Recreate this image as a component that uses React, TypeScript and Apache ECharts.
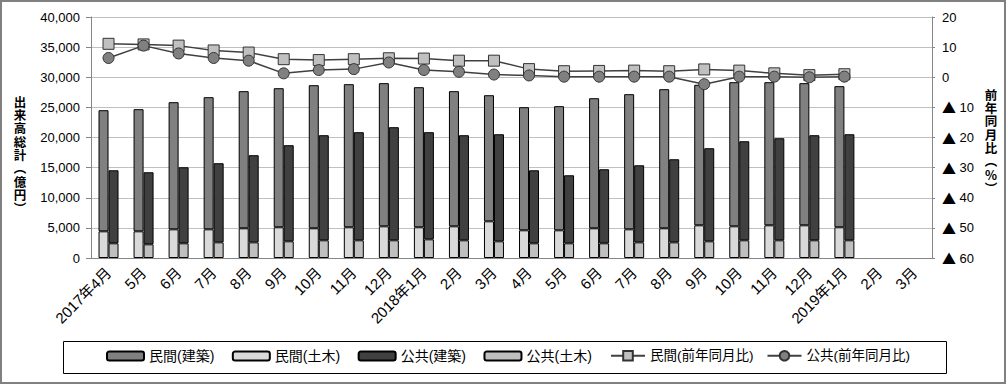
import React, { useEffect, useRef } from "react";
import * as echarts from "echarts";

const categories = [
  "2017年4月", "5月", "6月", "7月", "8月", "9月", "10月", "11月", "12月",
  "2018年1月", "2月", "3月", "4月", "5月", "6月", "7月", "8月", "9月", "10月", "11月", "12月",
  "2019年1月", "2月", "3月",
];

const privateCivil = [4430, 4430, 4760, 4760, 4930, 5100, 4930, 5100, 5260, 5100, 5260, 6090, 4600, 4600, 4930, 4760, 4930, 5430, 5260, 5430, 5430, 5100, null, null];
const privateBuilding = [20100, 20270, 21100, 21930, 22760, 23080, 23750, 23750, 23760, 23250, 22430, 20930, 20430, 20600, 21590, 22430, 23090, 23320, 23920, 23750, 23590, 23420, null, null];
const publicCivil = [2440, 2270, 2440, 2600, 2600, 2770, 2940, 2940, 2940, 3100, 2940, 2770, 2440, 2440, 2440, 2600, 2600, 2770, 2940, 2940, 2940, 2940, null, null];
const publicBuilding = [12120, 11960, 12620, 13130, 14460, 15950, 17440, 17940, 18770, 17780, 17440, 17770, 12120, 11290, 12290, 12790, 13790, 15450, 16440, 16940, 17440, 17600, null, null];
const privateYoY = [11.1, 10.9, 10.5, 8.9, 8.2, 6.0, 5.7, 6.0, 6.3, 6.2, 5.5, 5.5, 2.7, 2.0, 2.1, 2.2, 2.0, 2.6, 2.2, 1.3, 0.7, 1.0, null, null];
const publicYoY = [6.4, 10.5, 7.9, 6.4, 5.5, 1.3, 2.4, 2.7, 4.9, 2.4, 1.8, 0.9, 0.6, 0.2, 0.2, 0.2, 0.2, -2.3, 0.2, 0.2, 0.0, 0.2, null, null];

const leftTitle = ["出", "来", "高", "総", "計", "︵", "億", "円", "︶"];
const rightTitle = ["前", "年", "同", "月", "比", "︵", "%", "︶"];

const FONT = "'Liberation Sans', 'Noto Sans CJK JP', sans-serif";
const CJK = "'Noto Sans CJK JP', sans-serif";

export default function App() {
  const ref = useRef<HTMLDivElement>(null);
  useEffect(() => {
    if (!ref.current) return;
    const chart = echarts.init(ref.current, null, { renderer: "svg" });
    const barBase = { type: "bar", barWidth: 10, barGap: "0%", itemStyle: { borderColor: "#000", borderWidth: 1 } };
    const titleChars = (chars: string[], cx: number, top: number) =>
      chars.map((c, i) => ({
        type: "text",
        x: cx,
        y: top + i * 13.3,
        silent: true,
        style: { text: c, font: "bold 12.5px " + CJK, fill: "#000", align: "center", verticalAlign: "top" },
      }));
    chart.setOption({
      animation: false,
      backgroundColor: "#fff",
      textStyle: { fontFamily: FONT },
      grid: { left: 91, right: 74, top: 17, bottom: 126, containLabel: false },
      legend: [
        {
          data: ["民間(建築)", "民間(土木)", "公共(建築)", "公共(土木)"],
          left: 106, top: 349, padding: 0, itemWidth: 37, itemHeight: 9, itemGap: 17.5,
          textStyle: { fontSize: 14, color: "#000", fontFamily: FONT },
        },
        {
          data: ["民間(前年同月比)", "公共(前年同月比)"],
          left: 610, top: 349, padding: 0, itemWidth: 34, itemHeight: 12, itemGap: 13,
          textStyle: { fontSize: 13.5, color: "#000", fontFamily: FONT },
        },
      ],
      xAxis: {
        type: "category",
        data: categories,
        axisLine: { lineStyle: { color: "#868686" } },
        axisTick: { length: 5, lineStyle: { color: "#868686" } },
        axisLabel: { interval: 0, rotate: 45, fontSize: 15, color: "#000", margin: 12, fontFamily: FONT },
      },
      yAxis: [
        {
          type: "value", min: 0, max: 40000, interval: 5000,
          axisLine: { show: true, lineStyle: { color: "#868686" } },
          axisTick: { show: true, length: 5, lineStyle: { color: "#868686" } },
          splitLine: { lineStyle: { color: "#c0c0c0" } },
          axisLabel: {
            fontSize: 13, color: "#000", margin: 11, fontFamily: FONT,
            formatter: (v: number) => v.toLocaleString("en-US"),
          },
        },
        {
          type: "value", min: -60, max: 20, interval: 10,
          axisLine: { show: true, lineStyle: { color: "#868686" } },
          axisTick: { show: true, length: 3, lineStyle: { color: "#868686" } },
          splitLine: { show: false },
          axisLabel: {
            fontSize: 13, color: "#000", margin: 10, fontFamily: FONT,
            formatter: (v: number) => (v < 0 ? "{t|▲} " + -v : String(v)),
            rich: { t: { fontFamily: CJK, fontSize: 14, color: "#000" } },
          },
        },
      ],
      series: [
        { ...barBase, name: "民間(土木)", stack: "private", data: privateCivil, itemStyle: { ...barBase.itemStyle, color: "#d9d9d9" } },
        { ...barBase, name: "民間(建築)", stack: "private", data: privateBuilding, itemStyle: { ...barBase.itemStyle, color: "#808080" } },
        { ...barBase, name: "公共(土木)", stack: "public", data: publicCivil, itemStyle: { ...barBase.itemStyle, color: "#bfbfbf" } },
        { ...barBase, name: "公共(建築)", stack: "public", data: publicBuilding, itemStyle: { ...barBase.itemStyle, color: "#404040" } },
        {
          type: "line", name: "民間(前年同月比)", yAxisIndex: 1, data: privateYoY,
          symbol: "rect", symbolSize: 11,
          lineStyle: { color: "#404040", width: 1.5 },
          itemStyle: { color: "#c0c0c0", borderColor: "#333", borderWidth: 1 },
        },
        {
          type: "line", name: "公共(前年同月比)", yAxisIndex: 1, data: publicYoY,
          symbol: "circle", symbolSize: 11,
          lineStyle: { color: "#404040", width: 1.5 },
          itemStyle: { color: "#808080", borderColor: "#333", borderWidth: 1 },
        },
      ],
      graphic: [
        { type: "rect", shape: { x: 1, y: 1, width: 1004, height: 382 }, style: { fill: "none", stroke: "#808080", lineWidth: 2 }, silent: true },
        { type: "rect", shape: { x: 63.5, y: 341.5, width: 883, height: 32 }, style: { fill: "none", stroke: "#000", lineWidth: 1 }, silent: true },
        ...titleChars(leftTitle, 20, 95),
        ...titleChars(rightTitle, 991, 88),
      ],
    });
    return () => chart.dispose();
  }, []);
  return <div ref={ref} style={{ position: "absolute", left: 0, top: 0, width: 1006, height: 384 }} />;
}
